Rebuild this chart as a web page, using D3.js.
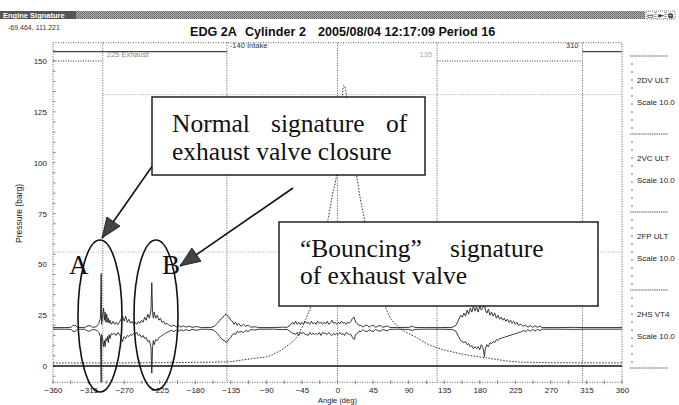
<!DOCTYPE html>
<html><head><meta charset="utf-8">
<script src="https://cdn.jsdelivr.net/npm/d3@7"></script>
<style>body{margin:0;background:#fff}svg{display:block}</style>
</head><body><svg id="c" width="679" height="405"></svg>
<script>
// ---------- data ----------
const xTicks = [-360,-315,-270,-225,-180,-135,-90,-45,0,45,90,135,180,225,270,315,360];
const yTicks = [0,25,50,75,100,125,150];
const titleParts = ["EDG 2A", "Cylinder 2", "2005/08/04 12:17:09 Period 16"];
const cursorText = "-69.464, 111.221";
const channels = ["2DV ULT","2VC ULT","2FP ULT","2HS VT4"];
const channelScale = ["Scale 10.0","Scale 10.0","Scale 10.0","Scale 10.0"];
// valve events (deg) and labels
const valveAngles = [-297,-140,126,310];
const valveLabels = ["225 Exhaust","-140 Intake","135","310"];
const gridAngles = [-297,-140,0,126,310];
// cylinder pressure (deg, barg)
const pressure = [[-360,1.5],[-300,1.5],[-240,1.6],[-180,1.8],[-140,2],[-120,3],[-100,4],[-90,4.5],[-75,7],[-60,11],[-52,14],[-45,19],[-38,25],[-31,33],[-25,44],[-18,58],[-12,72],[-6,85],[-1,95],[2,110],[5,127],[8,138],[11,134],[15,118],[19,104],[24,94],[29,82],[34,72],[40,58],[46,45],[52,38],[57,33],[65,25],[78,19],[90,16],[100,14],[113,11],[126,9],[150,6.5],[170,5],[188,4],[205,3],[221,2.2],[245,1.8],[280,1.6],[360,1.5]];
// vibration envelope (deg, upper amplitude, lower amplitude) around its baseline
const vibBase = 18.5;
const envelope = [[-360,.4,.4],[-345,.4,.4],[-337,.5,.5],[-335,1.4,1.4],[-332,1.5,1.5],[-329,.5,.5],[-320,.4,.4],[-316,1.3,1.3],[-313,1.3,1.3],[-310,.5,.5],[-305,.8,.8],[-302,2.5,2],[-300,5,4],[-299,27,26.5],[-298.5,2,3],[-297,7,6],[-296,10,9],[-295,4,6],[-294,8,9],[-293,3,5],[-292,7,6],[-291,3,4],[-290,5,7],[-289,2.5,3],[-288,4,5],[-286,2,2.5],[-284,3.5,3],[-282,2,2.5],[-280,3,3.5],[-278,1.8,2],[-276,3,3],[-274,4.5,4],[-272,6,6.5],[-270,3.5,4],[-268,6,5],[-266,3,3.5],[-264,4.5,4],[-262,2.5,3],[-260,3.5,3.5],[-258,2,2.5],[-256,3,3],[-254,2,2],[-252,3.5,3.5],[-250,2.5,3],[-248,4,4.5],[-246,3,3.5],[-244,5.5,5],[-242,4,4.5],[-240,7,6.5],[-238,5,6],[-236,9,9],[-235,22.5,22],[-234,8,9],[-233,5,6],[-232,8,8],[-230,5,5.5],[-228,6.5,6],[-226,4,4.5],[-224,5,4],[-222,3,3.5],[-220,3.5,3],[-218,2,2.5],[-216,2.5,2],[-213,1.5,1.5],[-210,1,1],[-207,1.6,1.6],[-204,.7,.7],[-201,1.4,1.4],[-198,.6,.6],[-195,1.3,1.3],[-192,.6,.6],[-188,1.1,1.1],[-184,.5,.5],[-178,.9,.9],[-172,.4,.4],[-160,.5,.5],[-156,1,1],[-152,2.5,2.5],[-149,4,4],[-146,5,5.5],[-143,6.5,6],[-141,7,7],[-139,6,6.5],[-137,5.5,5],[-135,4,4.5],[-133,3.5,3],[-131,2,2.5],[-129,3,3],[-127,1.5,1.5],[-125,2.5,2],[-122,1,1.5],[-119,2,2],[-116,1,1],[-113,1.6,1.6],[-110,.6,.6],[-104,.8,.8],[-100,.4,.4],[-80,.4,.4],[-70,.6,.6],[-64,.5,.5],[-60,1.5,1.5],[-57,3,2.5],[-55,2,2.5],[-53,3.5,3],[-51,2,2],[-49,3,3.5],[-47,1.8,2],[-45,3,2.5],[-43,2,2],[-41,3.5,3],[-39,2.5,3],[-37,3,3.5],[-35,2,2],[-33,3.5,3],[-31,2.2,2.5],[-29,3,3],[-27,2,2.5],[-25,3.5,3],[-23,2.5,2],[-21,3,3.5],[-19,2,2],[-17,3,2.5],[-15,2.2,2.5],[-13,3.5,3],[-11,2,2],[-9,2.8,3],[-7,4,3.5],[-5,2.5,2.5],[-3,3,3],[-1,2,2.5],[1,3,3],[3,2.2,2],[5,3.5,3],[7,2.5,2.5],[9,3,3.5],[11,2,2],[13,3,2.5],[15,2.5,3],[17,3.5,3],[19,5,4.5],[21,5.5,5.5],[23,3,3],[25,2.5,2.5],[27,1.5,1.5],[30,1.5,1.5],[32,.6,.6],[35,1.5,1.5],[38,1.5,1.5],[40,.6,.6],[43,1.4,1.4],[46,1.4,1.4],[48,.5,.5],[52,1.3,1.3],[55,1.3,1.3],[57,.5,.5],[63,1.2,1.2],[66,.5,.5],[75,.4,.4],[90,.5,.5],[95,1,1],[98,.5,.5],[110,.4,.4],[130,.4,.4],[145,.5,.5],[150,1.5,1.5],[153,4,4],[156,6.5,6],[158,5.5,6.5],[160,7.5,7],[162,6,6.5],[164,9,8],[166,7,7.5],[168,10,9],[170,8,8.5],[172,11,10],[174,8.5,9],[176,10.5,10],[178,8,9],[180,11,10.5],[182,9,8],[184,10,9.5],[186,14,14],[187,9,10],[189,7.5,8],[191,9.5,9],[193,6.5,7],[195,8,7.5],[197,6,6.5],[199,7.5,7],[201,5,5.5],[203,6.5,6],[205,4.5,5],[207,5.5,5],[209,4,4.5],[211,5,4.5],[213,3.5,4],[215,4.5,4],[217,3,3.5],[219,4,3.5],[221,2.5,3],[223,3.5,3],[225,2,2.5],[227,3,2.5],[229,1.5,2],[232,2,1.8],[235,1,1],[238,1.6,1.6],[241,.6,.6],[244,1.4,1.4],[247,.5,.5],[250,1.3,1.3],[253,.5,.5],[256,1.1,1.1],[259,.4,.4],[280,.4,.4],[300,.5,.5],[312,.4,.4],[360,.4,.4]];

// ---------- chart ----------
const svg = d3.select("#c");
const x = d3.scaleLinear().domain([-360,360]).range([53,622]);
const y = d3.scaleLinear().domain([0,150]).range([366,61]);
const yTop = y(159), yBot = y(-8);
const sans = "Liberation Sans, Arial, sans-serif";
const serif = "Liberation Serif, Times New Roman, serif";

// title bar (dithered)
const defs = svg.append("defs");
const pat = defs.append("pattern").attr("id","dith").attr("width",2).attr("height",2).attr("patternUnits","userSpaceOnUse");
pat.append("rect").attr("width",2).attr("height",2).attr("fill","#b0b0b0");
pat.append("rect").attr("width",1).attr("height",1).attr("fill","#666");
pat.append("rect").attr("x",1).attr("y",1).attr("width",1).attr("height",1).attr("fill","#777");
svg.append("rect").attr("x",0).attr("y",11).attr("width",645).attr("height",8).attr("fill","url(#dith)");
svg.append("rect").attr("x",0).attr("y",11).attr("width",76).attr("height",8).attr("fill","#555");
svg.append("text").attr("x",3).attr("y",18).attr("font-family",sans).attr("font-size",7.5).attr("font-weight","bold").attr("fill","#fff").text("Engine Signature");
[646,656,666].forEach((bx,i)=>{
  svg.append("rect").attr("x",bx).attr("y",11).attr("width",9).attr("height",8).attr("fill","#fff").attr("stroke","#333").attr("stroke-width",0.7).attr("stroke-dasharray","1,1");
  svg.append("text").attr("x",bx+4.5).attr("y",18).attr("text-anchor","middle").attr("font-family",sans).attr("font-size",7).attr("font-weight","bold").attr("fill","#222").text(["▭","⇤","⧉"][i]);
});
svg.append("text").attr("x",8).attr("y",30).attr("font-family",sans).attr("font-size",7).attr("fill","#333").text(cursorText);
const tpos = [190,245,318];
titleParts.forEach((t,i)=>svg.append("text").attr("x",tpos[i]).attr("y",36).attr("font-family",sans).attr("font-size",12.6).attr("font-weight","bold").attr("fill","#111").text(t));

const dotted = (g)=>g.attr("stroke","#333").attr("stroke-width",0.8).attr("stroke-dasharray","1,1.5").attr("fill","none");

// frame
dotted(svg.append("rect").attr("x",x(-360)).attr("y",yTop).attr("width",x(360)-x(-360)).attr("height",yBot-yTop));

// light horizontal grid
dotted(svg.append("line").attr("x1",x(-297)).attr("x2",x(360)).attr("y1",y(133.5)).attr("y2",y(133.5))).attr("stroke","#999");
dotted(svg.append("line").attr("x1",x(-360)).attr("x2",x(360)).attr("y1",y(56)).attr("y2",y(56))).attr("stroke","#999");

// vertical event/grid lines
gridAngles.forEach(a=>dotted(svg.append("line").attr("x1",x(a)).attr("x2",x(a)).attr("y1",yTop).attr("y2",yBot)));

// valve timing strip
svg.append("line").attr("x1",x(-360)).attr("x2",x(-140)).attr("y1",yTop+9).attr("y2",yTop+9).attr("stroke","#444").attr("stroke-width",1.3);
svg.append("line").attr("x1",x(310)).attr("x2",x(360)).attr("y1",yTop+9).attr("y2",yTop+9).attr("stroke","#444").attr("stroke-width",1.3);
dotted(svg.append("line").attr("x1",x(-360)).attr("x2",x(-297)).attr("y1",y(150)).attr("y2",y(150))).attr("stroke-width",1.2);
dotted(svg.append("line").attr("x1",x(126)).attr("x2",x(310)).attr("y1",y(150)).attr("y2",y(150))).attr("stroke-width",1.2);
const vlPos = [[4,y(150)-4,"start","#888"],[3,yTop+5,"start","#333"],[-5,y(150)-4,"end","#aaa"],[-4,yTop+5,"end","#333"]];
valveLabels.forEach((t,i)=>svg.append("text").attr("x",x(valveAngles[i])+vlPos[i][0]).attr("y",vlPos[i][1]).attr("text-anchor",vlPos[i][2]).attr("font-family",sans).attr("font-size",7.5).attr("fill",vlPos[i][3]).text(t));

// axes
const yAxis = d3.axisLeft(y).tickValues(yTicks).tickSize(0).tickPadding(6);
const gy = svg.append("g").attr("transform",`translate(${x(-360)},0)`).call(yAxis);
gy.select(".domain").remove();
gy.selectAll("text").attr("font-family",sans).attr("font-size",8).attr("fill","#222");
d3.range(-5,160,5).forEach(v=>svg.append("line").attr("x1",x(-360)).attr("x2",x(-360)+2.5).attr("y1",y(v)).attr("y2",y(v)).attr("stroke","#555").attr("stroke-width",0.7));
const xAxis = d3.axisBottom(x).tickValues(xTicks).tickSize(0).tickPadding(5);
const gx = svg.append("g").attr("transform",`translate(0,${yBot})`).call(xAxis);
gx.select(".domain").remove();
gx.selectAll("text").attr("font-family",sans).attr("font-size",8).attr("fill","#222");
d3.range(-360,361,22.5).forEach(v=>svg.append("line").attr("x1",x(v)).attr("x2",x(v)).attr("y1",yBot-2).attr("y2",yBot+2).attr("stroke","#555").attr("stroke-width",0.7));
svg.append("text").attr("transform",`translate(22,${y(75)}) rotate(-90)`).attr("text-anchor","middle").attr("font-family",sans).attr("font-size",8.5).attr("fill","#222").text("Pressure (barg)");
svg.append("text").attr("x",x(0)).attr("y",403).attr("text-anchor","middle").attr("font-family",sans).attr("font-size",7.5).attr("fill","#222").text("Angle (deg)");

// right channel panel
channels.forEach((c,i)=>{
  const ly = 56 + i*78;
  dotted(svg.append("line").attr("x1",630).attr("x2",668).attr("y1",ly).attr("y2",ly)).attr("stroke-dasharray","1.5,0.7");
  d3.range(1,10).forEach(k=>svg.append("line").attr("x1",631).attr("x2",633).attr("y1",ly+k*8).attr("y2",ly+k*8).attr("stroke","#444").attr("stroke-width",0.8));
  svg.append("text").attr("x",637).attr("y",ly+27).attr("font-family",sans).attr("font-size",8).attr("fill","#222").text(c);
  svg.append("text").attr("x",637).attr("y",ly+49).attr("font-family",sans).attr("font-size",8).attr("fill","#222").text(channelScale[i]);
});
dotted(svg.append("line").attr("x1",630).attr("x2",668).attr("y1",368).attr("y2",368)).attr("stroke-dasharray","1.5,0.7");

// zero line
svg.append("line").attr("x1",x(-360)).attr("x2",x(360)).attr("y1",y(0)).attr("y2",y(0)).attr("stroke","#111").attr("stroke-width",1.5);

// vibration envelope
const upLine = d3.line().x(d=>x(d[0])).y(d=>y(vibBase+d[1]));
const loLine = d3.line().x(d=>x(d[0])).y(d=>y(vibBase-d[2]));
svg.append("path").attr("d",upLine(envelope)).attr("fill","none").attr("stroke","#222").attr("stroke-width",0.9);
svg.append("path").attr("d",loLine(envelope)).attr("fill","none").attr("stroke","#222").attr("stroke-width",0.9);

// pressure curve
const pLine = d3.line().x(d=>x(d[0])).y(d=>y(d[1])).curve(d3.curveMonotoneX);
svg.append("path").attr("d",pLine(pressure)).attr("fill","none").attr("stroke","#222").attr("stroke-width",0.9).attr("stroke-dasharray","1.6,1.4");

// ---------- annotations ----------
svg.append("ellipse").attr("cx",100).attr("cy",316).attr("rx",22).attr("ry",76).attr("fill","none").attr("stroke","#111").attr("stroke-width",1.6);
svg.append("ellipse").attr("cx",156).attr("cy",315).attr("rx",22).attr("ry",75).attr("fill","none").attr("stroke","#111").attr("stroke-width",1.6);
svg.append("text").attr("x",69).attr("y",274).attr("font-family",serif).attr("font-size",27).attr("fill","#111").text("A");
svg.append("text").attr("x",162).attr("y",274).attr("font-family",serif).attr("font-size",27).attr("fill","#111").text("B");

function arrow(x1,y1,x2,y2){
  svg.append("line").attr("x1",x1).attr("y1",y1).attr("x2",x2).attr("y2",y2).attr("stroke","#111").attr("stroke-width",1.6);
  const ang = Math.atan2(y2-y1,x2-x1), L=20, W=8;
  const bx = x2 - L*Math.cos(ang), by = y2 - L*Math.sin(ang);
  const px = -Math.sin(ang)*W, py = Math.cos(ang)*W;
  svg.append("path").attr("d",`M${x2},${y2}L${bx+px},${by+py}L${bx-px},${by-py}Z`).attr("fill","#444").attr("stroke","#111").attr("stroke-width",0.8);
}
arrow(153,165,102,238);
arrow(293,188,180,266);

const fs = 25.5;
svg.append("rect").attr("x",152).attr("y",97).attr("width",273).attr("height",78).attr("fill","#fff").attr("stroke","#111").attr("stroke-width",1.4);
[["Normal",172],["signature",271],["of",386]].forEach(w=>svg.append("text").attr("x",w[1]).attr("y",132).attr("font-family",serif).attr("font-size",fs).attr("fill","#111").text(w[0]));
svg.append("text").attr("x",172).attr("y",160).attr("font-family",serif).attr("font-size",fs).attr("fill","#111").text("exhaust valve closure");

svg.append("rect").attr("x",279).attr("y",222).attr("width",319).attr("height",84).attr("fill","#fff").attr("stroke","#111").attr("stroke-width",1.4);
[["\u201cBouncing\u201d",300],["signature",450]].forEach(w=>svg.append("text").attr("x",w[1]).attr("y",257).attr("font-family",serif).attr("font-size",fs).attr("fill","#111").text(w[0]));
svg.append("text").attr("x",300).attr("y",284).attr("font-family",serif).attr("font-size",fs).attr("fill","#111").text("of exhaust valve");
</script></body></html>
